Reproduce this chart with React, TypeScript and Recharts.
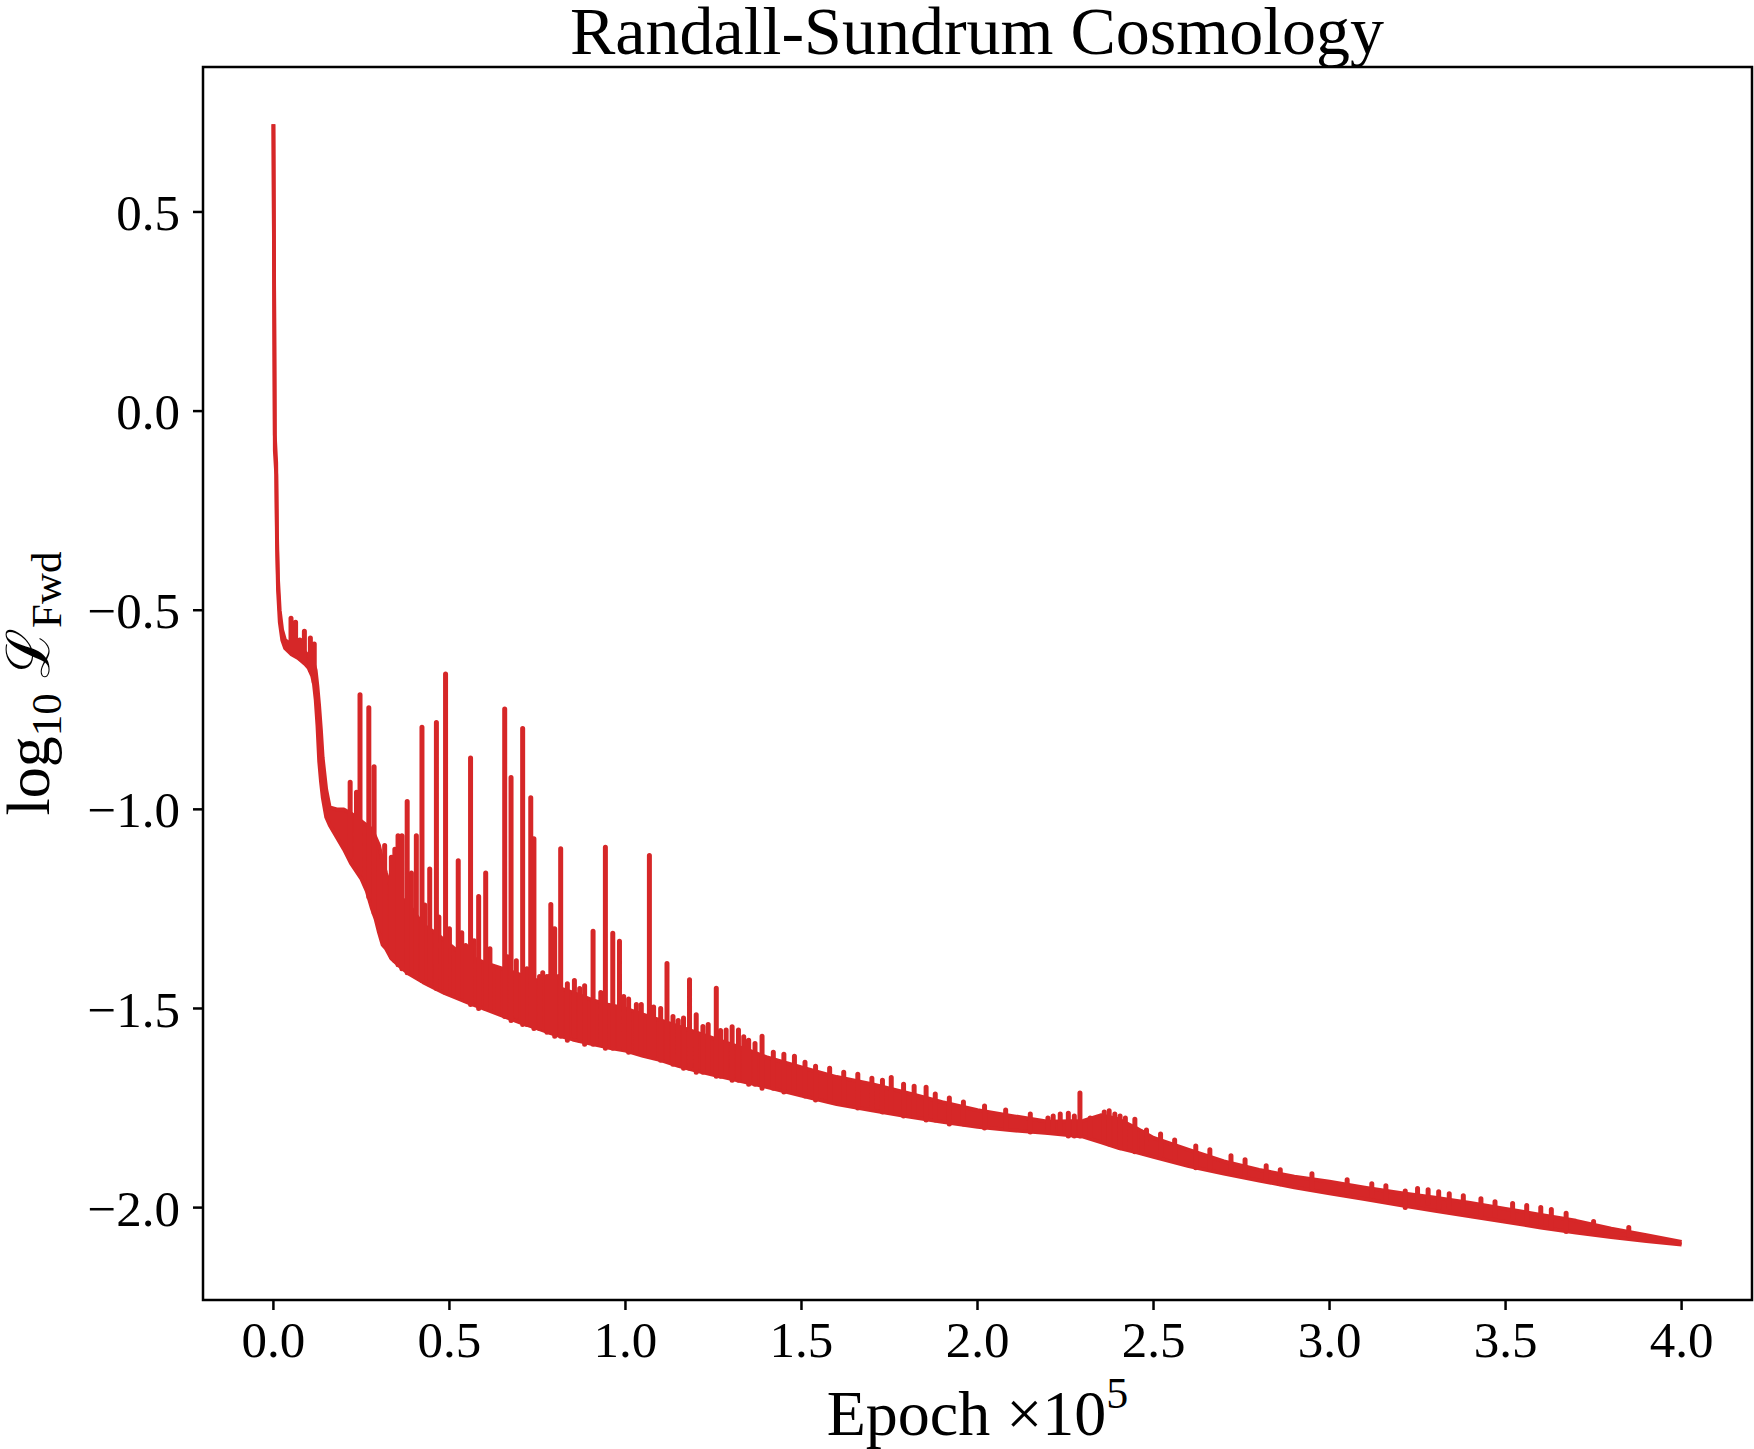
import React from 'react';
import { ComposedChart, Area, Line, XAxis, YAxis, ReferenceArea, Label } from 'recharts';

// Epoch in units of 1e5
const bandEpoch = [
  0.0, 0.004, 0.008, 0.01, 0.013, 0.018, 0.025, 0.033, 0.05, 0.07, 0.09, 0.1, 0.11, 0.115, 0.12, 0.125,
  0.13, 0.135, 0.14, 0.15, 0.16, 0.18, 0.2, 0.22, 0.25, 0.265, 0.28, 0.29, 0.3, 0.31, 0.32, 0.335,
  0.36, 0.385, 0.425, 0.46, 0.487, 0.515, 0.56, 0.6, 0.65, 0.7, 0.75, 0.8, 0.85, 0.91, 0.95, 1.0,
  1.05, 1.1, 1.15, 1.2, 1.25, 1.3, 1.35, 1.4, 1.5, 1.6, 1.7, 1.8, 1.9, 2.0, 2.1, 2.2,
  2.3, 2.35, 2.4, 2.45, 2.5, 2.6, 2.7, 2.8, 2.9, 3.0, 3.1, 3.2, 3.3, 3.4, 3.5, 3.6,
  3.7, 3.8, 3.9, 4.0,
];
const bandLow = [
  0.72, -0.1, -0.16, -0.33, -0.45, -0.53, -0.575, -0.595, -0.61, -0.62, -0.635, -0.645, -0.665, -0.685, -0.725, -0.79,
  -0.88, -0.93, -0.97, -1.02, -1.04, -1.07, -1.1, -1.135, -1.175, -1.205, -1.25, -1.275, -1.31, -1.34, -1.35, -1.375,
  -1.395, -1.413, -1.434, -1.45, -1.462, -1.472, -1.488, -1.501, -1.518, -1.535, -1.55, -1.566, -1.578, -1.59, -1.598, -1.606,
  -1.619, -1.63, -1.644, -1.656, -1.667, -1.677, -1.687, -1.697, -1.719, -1.74, -1.756, -1.771, -1.785, -1.797, -1.806, -1.813,
  -1.822, -1.836, -1.85, -1.861, -1.873, -1.896, -1.915, -1.932, -1.949, -1.964, -1.979, -1.994, -2.008, -2.022, -2.036, -2.05,
  -2.063, -2.074, -2.084, -2.093,
];
const bandHigh = [
  0.72, -0.06, -0.13, -0.3, -0.42, -0.5, -0.55, -0.575, -0.585, -0.595, -0.605, -0.615, -0.625, -0.635, -0.65, -0.69,
  -0.74, -0.8, -0.87, -0.95, -0.995, -1.0, -1.0, -1.01, -1.03, -1.04, -1.05, -1.07, -1.09, -1.13, -1.16, -1.2,
  -1.22, -1.24, -1.29, -1.31, -1.33, -1.35, -1.37, -1.385, -1.4, -1.415, -1.43, -1.445, -1.46, -1.48, -1.49, -1.5,
  -1.515, -1.53, -1.545, -1.56, -1.575, -1.59, -1.605, -1.622, -1.648, -1.672, -1.69, -1.712, -1.735, -1.755, -1.77, -1.784,
  -1.782, -1.768, -1.778, -1.8, -1.825, -1.855, -1.884, -1.905, -1.922, -1.935, -1.95, -1.963, -1.975, -1.988, -2.003, -2.018,
  -2.033, -2.053, -2.069, -2.086,
];

// Tall spikes
const spikeEpoch = [
  0.05, 0.063, 0.075, 0.088, 0.105, 0.116, 0.218, 0.236, 0.246, 0.271, 0.286, 0.316, 0.354, 0.365, 0.38, 0.406,
  0.422, 0.444, 0.463, 0.489, 0.525, 0.546, 0.56, 0.583, 0.603, 0.638, 0.657, 0.675, 0.708, 0.731, 0.74, 0.756,
  0.777, 0.788, 0.799, 0.816, 0.835, 0.884, 0.908, 0.943, 0.964, 0.983, 1.009, 1.031, 1.068, 1.08, 1.118, 1.165,
  1.182, 1.201, 1.258, 1.286, 1.303, 1.321, 1.336, 1.35, 1.368, 1.388, 1.755, 1.854, 2.258, 2.291, 2.374, 2.405,
  2.447, 2.467, 3.215, 3.672,
];
const spikePeak = [
  -0.52, -0.53, -0.575, -0.553, -0.57, -0.585, -0.932, -0.957, -0.712, -0.745, -0.893, -1.091, -1.066, -1.066, -0.98, -1.066,
  -0.794, -1.15, -0.782, -0.66, -1.129, -1.342, -0.871, -1.219, -1.16, -1.405, -0.748, -0.92, -0.797, -0.971, -1.074, -1.42,
  -1.42, -1.239, -1.3, -1.099, -1.438, -1.443, -1.306, -1.095, -1.311, -1.331, -1.476, -1.49, -1.116, -1.496, -1.387, -1.524,
  -1.428, -1.516, -1.449, -1.554, -1.546, -1.554, -1.571, -1.58, -1.588, -1.57, -1.673, -1.698, -1.763, -1.712, -1.757, -1.77,
  -1.778, -1.81, -1.958, -2.014,
];
const spikeBase = [
  -0.6, -0.61, -0.62, -0.63, -0.65, -0.68, -1.12, -1.14, -1.16, -1.22, -1.26, -1.34, -1.39, -1.4, -1.41, -1.42,
  -1.43, -1.44, -1.45, -1.46, -1.47, -1.48, -1.49, -1.5, -1.5, -1.51, -1.52, -1.53, -1.54, -1.54, -1.55, -1.55,
  -1.56, -1.56, -1.57, -1.57, -1.58, -1.59, -1.59, -1.6, -1.6, -1.6, -1.61, -1.61, -1.62, -1.62, -1.63, -1.65,
  -1.65, -1.66, -1.67, -1.67, -1.68, -1.68, -1.68, -1.69, -1.69, -1.7, -1.76, -1.78, -1.82, -1.82, -1.84, -1.85,
  -1.86, -1.86, -2.0, -2.06,
];

// Small noise bumps on top of the band
const bumpEpoch = [
  0.335, 0.345, 0.392, 0.43, 0.47, 0.5, 0.535, 0.57, 0.615, 0.665, 0.69, 0.72, 0.765, 0.81, 0.855, 0.87,
  0.93, 0.995, 1.045, 1.1, 1.135, 1.15, 1.22, 1.235, 1.27, 1.42, 1.45, 1.48, 1.51, 1.54, 1.58, 1.62,
  1.66, 1.7, 1.73, 1.79, 1.82, 1.88, 1.92, 1.96, 2.02, 2.08, 2.15, 2.2, 2.215, 2.235, 2.275, 2.32,
  2.36, 2.39, 2.42, 2.48, 2.52, 2.56, 2.62, 2.66, 2.72, 2.76, 2.82, 2.86, 2.95, 3.05, 3.12, 3.16,
  3.25, 3.28, 3.31, 3.34, 3.38, 3.43, 3.47, 3.52, 3.56, 3.6, 3.63, 3.75, 3.85,
];
const bumpPeak = [
  -1.12, -1.1, -1.16, -1.24, -1.27, -1.3, -1.31, -1.33, -1.35, -1.37, -1.38, -1.4, -1.41, -1.42, -1.43, -1.45,
  -1.46, -1.47, -1.49, -1.5, -1.52, -1.53, -1.545, -1.54, -1.555, -1.61, -1.615, -1.62, -1.635, -1.645, -1.65, -1.66,
  -1.665, -1.675, -1.68, -1.69, -1.695, -1.715, -1.725, -1.735, -1.745, -1.755, -1.765, -1.775, -1.77, -1.765, -1.77, -1.775,
  -1.76, -1.765, -1.775, -1.805, -1.815, -1.83, -1.845, -1.855, -1.87, -1.88, -1.895, -1.905, -1.915, -1.93, -1.94, -1.945,
  -1.952, -1.955, -1.96, -1.965, -1.97, -1.978, -1.985, -1.99, -1.995, -2.0, -2.005, -2.035, -2.05,
];
const bumpBase = [
  -1.37, -1.38, -1.4, -1.43, -1.45, -1.46, -1.47, -1.48, -1.5, -1.52, -1.52, -1.54, -1.55, -1.56, -1.57, -1.58,
  -1.59, -1.6, -1.61, -1.63, -1.64, -1.64, -1.66, -1.66, -1.67, -1.7, -1.71, -1.71, -1.72, -1.73, -1.73, -1.74,
  -1.75, -1.75, -1.76, -1.77, -1.77, -1.78, -1.79, -1.79, -1.8, -1.8, -1.81, -1.81, -1.81, -1.81, -1.82, -1.82,
  -1.83, -1.84, -1.85, -1.86, -1.87, -1.88, -1.9, -1.9, -1.91, -1.92, -1.93, -1.94, -1.95, -1.96, -1.97, -1.98,
  -1.99, -1.99, -2.0, -2.0, -2.01, -2.02, -2.02, -2.03, -2.04, -2.04, -2.05, -2.06, -2.07,
];

const xTicks = [0, 0.5, 1.0, 1.5, 2.0, 2.5, 3.0, 3.5, 4.0];
const yTicks = [-2.0, -1.5, -1.0, -0.5, 0.0, 0.5];
const xDomain: [number, number] = [-0.2, 4.2];
const yDomain: [number, number] = [-2.232, 0.864];

const titleText = 'Randall-Sundrum Cosmology';
const RED = '#d62728';
const SERIF = '"Liberation Serif", "Times New Roman", serif';

const bandData = bandEpoch.map((x, i) => ({ x, range: [bandLow[i], bandHigh[i]] }));
const toSegments = (xs: number[], peaks: number[], bases: number[]) =>
  xs.flatMap((x, i) => [
    { x, v: bases[i] },
    { x, v: peaks[i] },
    { x, v: null },
  ]);
const spikeData = toSegments(spikeEpoch, spikePeak, spikeBase);
const bumpData = toSegments(bumpEpoch, bumpPeak, bumpBase);

const fmt = (v: number) => (v < 0 ? '\u2212' : '') + Math.abs(v).toFixed(1);

const YLabelContent = (props: any) => {
  const vb = props.viewBox || { x: 0, y: 67, width: 203, height: 1233 };
  const cx = vb.x + 49;
  const cy = vb.y + vb.height / 2;
  return (
    <text
      transform={`rotate(-90 ${cx} ${cy})`}
      x={cx}
      y={cy}
      textAnchor="middle"
      fontFamily={SERIF}
      fontSize={62}
      fill="#000"
      style={{ whiteSpace: 'pre' }}
    >
      <tspan>log</tspan>
      <tspan fontSize={43} dy={12}>10</tspan>
      <tspan dy={-12}> </tspan>
      <tspan fontFamily='"DejaVu Serif", serif' fontSize={60}>ℒ</tspan>
      <tspan fontSize={43} dy={12}>Fwd</tspan>
    </text>
  );
};

const TitleContent = (props: any) => {
  const vb = props.viewBox || { x: 0, y: 67, width: 203, height: 1233 };
  return (
    <text x={977} y={vb.y - 13} textAnchor="middle" fontFamily={SERIF} fontSize={68} fill="#000">
      {titleText}
    </text>
  );
};

const XLabelContent = (props: any) => {
  const vb = props.viewBox || { x: 203, y: 1300, width: 1549, height: 149 };
  const cx = vb.x + vb.width / 2;
  return (
    <text x={cx} y={vb.y + 135} textAnchor="middle" fontFamily={SERIF} fontSize={64} fill="#000" style={{ whiteSpace: 'pre' }}>
      <tspan>Epoch </tspan>
      <tspan>×10</tspan>
      <tspan fontSize={44} dy={-27}>5</tspan>
    </text>
  );
};

export default function App() {
  return (
    <div style={{ position: 'absolute', left: 0, top: 0, width: 1754, height: 1449, background: '#fff' }}>
      <ComposedChart width={1754} height={1449} margin={{ top: 67, right: 2, bottom: 0, left: 0 }}>
        <XAxis
          type="number"
          dataKey="x"
          domain={xDomain}
          ticks={xTicks}
          interval={0}
          allowDataOverflow
          height={149}
          axisLine={false}
          tickLine={{ stroke: '#000', strokeWidth: 2.5 }}
          tickSize={10}
          tickMargin={11}
          tickFormatter={fmt}
          tick={{ fontSize: 51, fill: '#000', fontFamily: SERIF }}
        >
          <Label content={XLabelContent} />
        </XAxis>
        <YAxis
          type="number"
          domain={yDomain}
          ticks={yTicks}
          interval={0}
          allowDataOverflow
          width={203}
          axisLine={false}
          tickLine={{ stroke: '#000', strokeWidth: 2.5 }}
          tickSize={10}
          tickMargin={13}
          tickFormatter={fmt}
          tick={{ fontSize: 51, fill: '#000', fontFamily: SERIF }}
        >
          <Label content={YLabelContent} />
          <Label content={TitleContent} />
        </YAxis>
        <Area
          data={bandData}
          dataKey="range"
          type="linear"
          stroke={RED}
          strokeWidth={3.8}
          fill={RED}
          fillOpacity={1}
          strokeLinejoin="round"
          dot={false}
          activeDot={false}
          isAnimationActive={false}
        />
        <Line
          data={bumpData}
          dataKey="v"
          type="linear"
          stroke={RED}
          strokeWidth={5}
          strokeLinecap="round"
          strokeLinejoin="round"
          dot={false}
          activeDot={false}
          connectNulls={false}
          isAnimationActive={false}
        />
        <Line
          data={spikeData}
          dataKey="v"
          type="linear"
          stroke={RED}
          strokeWidth={5}
          strokeLinecap="round"
          strokeLinejoin="round"
          dot={false}
          activeDot={false}
          connectNulls={false}
          isAnimationActive={false}
        />
        <ReferenceArea
          x1={xDomain[0]}
          x2={xDomain[1]}
          y1={yDomain[0]}
          y2={yDomain[1]}
          fill="none"
          fillOpacity={0}
          stroke="#000"
          strokeWidth={2.5}
          ifOverflow="visible"
        />
      </ComposedChart>
    </div>
  );
}
